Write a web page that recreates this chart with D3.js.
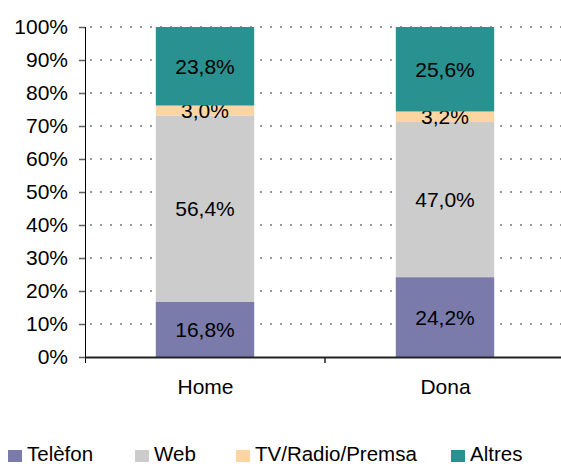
<!DOCTYPE html>
<html>
<head>
<meta charset="utf-8">
<script src="https://cdnjs.cloudflare.com/ajax/libs/d3/7.8.5/d3.min.js"></script>
<style>
  body { margin: 0; background: #fff; }
  svg text { font-family: "Liberation Sans", Arial, sans-serif; fill: #000; }
</style>
</head>
<body>
<svg id="svg1"></svg>
<script>

// data
var categories = ["Home", "Dona"];
var series = ["Telèfon", "Web", "TV/Radio/Premsa", "Altres"];
var telefon = [16.8, 24.2];
var web = [56.4, 47.0];
var tvRadio = [3.0, 3.2];
var altres = [23.8, 25.6];
var yTicks = [0, 10, 20, 30, 40, 50, 60, 70, 80, 90, 100];
var colors = ["#7b7bab", "#cccccc", "#fcd5a3", "#2a9191"];

var margin = {top: 27, left: 85};
var width = 480;
var height = 330;

var svg = d3.select("#svg1")
    .attr("width", 561)
    .attr("height", 464)
  .append("g")
    .attr("transform", "translate(" + margin.left + "," + margin.top + ")");

var x = d3.scalePoint()
    .domain(categories)
    .range([0, width])
    .padding(0.5);
var step = x.step();
var barW = step * 0.41;

var y = d3.scaleLinear()
    .domain([0, 100])
    .range([height, 0]);

// dotted grid
svg.append("g")
  .selectAll("line")
  .data(yTicks.filter(function(d) { return d > 0; }))
  .enter()
  .append("line")
    .attr("x1", 0)
    .attr("x2", width)
    .attr("y1", function(d) { return y(d); })
    .attr("y2", function(d) { return y(d); })
    .style("stroke", "#777")
    .style("stroke-width", 1.5)
    .style("stroke-dasharray", "2,8")
    .attr("stroke-dashoffset", -5);

// stack the series
var rows = categories.map(function(c, i) {
  return {cat: c, "Telèfon": telefon[i], "Web": web[i], "TV/Radio/Premsa": tvRadio[i], "Altres": altres[i]};
});
var stacked = d3.stack().keys(series)(rows);

var layer = svg.append("g")
  .selectAll("g")
  .data(stacked)
  .enter()
  .append("g")
    .style("fill", function(d, i) { return colors[i]; });

layer.selectAll("rect")
  .data(function(d) { return d; })
  .enter()
  .append("rect")
    .attr("x", function(d) { return x(d.data.cat) - barW / 2; })
    .attr("width", barW)
    .attr("y", function(d) { return y(d[1]); })
    .attr("height", function(d) { return y(d[0]) - y(d[1]); });

layer.selectAll("text")
  .data(function(d) { return d; })
  .enter()
  .append("text")
    .attr("x", function(d) { return x(d.data.cat); })
    .attr("y", function(d) { return (y(d[0]) + y(d[1])) / 2; })
    .attr("dy", "0.36em")
    .attr("text-anchor", "middle")
    .style("font-size", "21px")
    .style("fill", "#000")
    .text(function(d) { return (d[1] - d[0]).toFixed(1).replace(".", ",") + "%"; });

// y axis
var yAxis = svg.append("g")
    .call(d3.axisLeft(y).tickValues(yTicks).tickSize(6).tickPadding(11)
      .tickFormat(function(d) { return d + "%"; }));
yAxis.select(".domain").attr("d", "M0.5,0V" + (height + 6)).style("stroke", "#000");
yAxis.selectAll(".tick line").style("stroke", "#5a6060").style("stroke-width", 1.5);
yAxis.selectAll("text").style("font-size", "21px");

// x axis
var xAxis = svg.append("g")
    .attr("transform", "translate(0," + height + ")")
    .call(d3.axisBottom(x).tickSize(0).tickPadding(22));
xAxis.select(".domain").attr("d", "M0," + 0.5 + "H" + width).style("stroke", "#222").style("stroke-width", 1.8);
xAxis.selectAll("text").style("font-size", "21px");

svg.append("g")
  .selectAll("line")
  .data(categories.slice(1))
  .enter()
  .append("line")
    .attr("x1", function(d) { return x(d) - step / 2; })
    .attr("x2", function(d) { return x(d) - step / 2; })
    .attr("y1", height)
    .attr("y2", height + 6)
    .style("stroke", "#222")
    .style("stroke-width", 1.5);

// legend
var legendX = [8, 135, 236, 451];
var legend = d3.select("#svg1").append("g")
  .selectAll("g")
  .data(series)
  .enter()
  .append("g")
    .attr("transform", function(d, i) { return "translate(" + legendX[i] + ",450)"; });

legend.append("rect")
    .attr("width", 14)
    .attr("height", 12)
    .style("fill", function(d, i) { return colors[i]; });

legend.append("text")
    .attr("x", 19)
    .attr("y", 11)
    .style("font-size", "20.5px")
    .text(function(d) { return d; });

</script>
</body>
</html>
